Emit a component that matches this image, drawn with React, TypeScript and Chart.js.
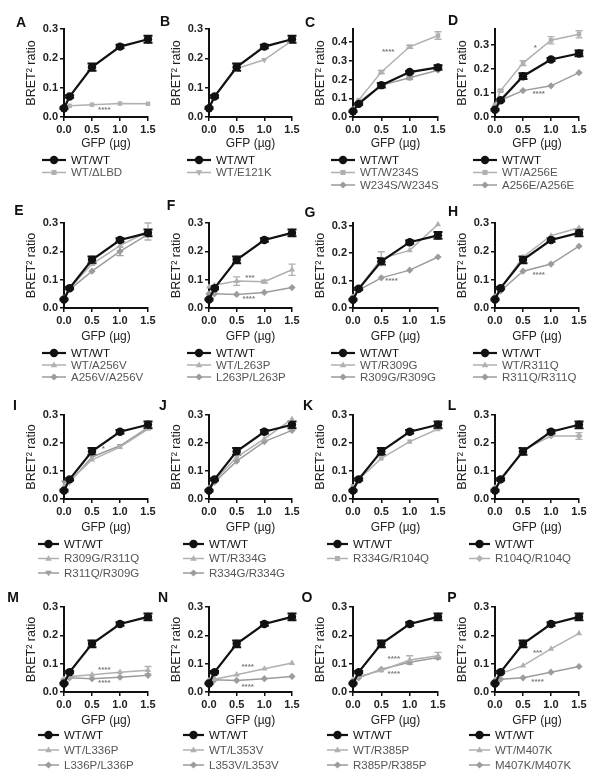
import React, { useEffect, useRef } from 'react';
import { Chart, registerables } from 'chart.js';
Chart.register(...registerables);

// ---------------- DATA ----------------
const doses = [0, 0.1, 0.5, 1.0, 1.5];
const xTickValues = [0, 0.5, 1.0, 1.5];
const yTicks03 = [0, 0.1, 0.2, 0.3];
const yTicks04 = [0, 0.1, 0.2, 0.3, 0.4];

const wtWT = [0.03, 0.07, 0.17, 0.24, 0.265];
const wtWTErr = [0.003, 0.004, 0.012, 0.006, 0.012];

const wtDLBD = [0.035, 0.038, 0.042, 0.046, 0.045];
const wtE121K = [0.035, 0.07, 0.165, 0.195, 0.26];
const wtW234S = [0.04, 0.09, 0.24, 0.375, 0.435];
const wtW234SErr = [0, 0, 0.008, 0.008, 0.02];
const w234sW234S = [0.04, 0.08, 0.17, 0.21, 0.25];
const w234sW234SErr = [0, 0, 0, 0.01, 0];
const wtA256E = [0.05, 0.11, 0.225, 0.32, 0.345];
const wtA256EErr = [0, 0.005, 0.01, 0.015, 0.015];
const a256eA256E = [0.045, 0.07, 0.11, 0.13, 0.185];
const wtA256V = [0.035, 0.07, 0.155, 0.22, 0.27];
const wtA256VErr = [0, 0, 0, 0, 0.03];
const a256vA256V = [0.035, 0.065, 0.13, 0.2, 0.26];
const a256vA256VErr = [0, 0, 0, 0.015, 0];
const wtL263P = [0.075, 0.08, 0.095, 0.093, 0.135];
const wtL263PErr = [0, 0, 0.015, 0.005, 0.02];
const l263pL263P = [0.05, 0.05, 0.048, 0.055, 0.072];
const wtR309G = [0.04, 0.07, 0.18, 0.21, 0.305];
const wtR309GErr = [0, 0, 0.025, 0, 0];
const r309gR309G = [0.04, 0.065, 0.11, 0.138, 0.186];
const wtR311Q = [0.035, 0.07, 0.18, 0.255, 0.283];
const r311qR311Q = [0.04, 0.06, 0.13, 0.155, 0.218];
const r309gR311Q = [0.045, 0.065, 0.14, 0.185, 0.25];
const r311qR309G = [0.06, 0.06, 0.15, 0.19, 0.255];
const wtR334G = [0.04, 0.065, 0.15, 0.215, 0.285];
const r334gR334G = [0.035, 0.06, 0.135, 0.205, 0.245];
const r334gR104Q = [0.045, 0.07, 0.145, 0.205, 0.25];
const r104qR104Q = [0.04, 0.065, 0.175, 0.225, 0.225];
const r104qR104QErr = [0, 0, 0, 0, 0.012];
const wtL336P = [0.045, 0.055, 0.061, 0.07, 0.077];
const wtL336PErr = [0, 0, 0, 0, 0.013];
const l336pL336P = [0.045, 0.05, 0.047, 0.052, 0.059];
const wtL353V = [0.04, 0.045, 0.061, 0.082, 0.102];
const l353vL353V = [0.04, 0.043, 0.041, 0.047, 0.055];
const wtR385P = [0.045, 0.055, 0.076, 0.113, 0.128];
const wtR385PErr = [0, 0, 0, 0.015, 0.012];
const r385pR385P = [0.04, 0.05, 0.08, 0.105, 0.122];
const wtM407K = [0.045, 0.065, 0.093, 0.152, 0.207];
const m407kM407K = [0.04, 0.045, 0.05, 0.07, 0.09];

// significance labels: [text, x, y] in data units
const starsA = [['****', 0.72, 0.026]];
const starsC = [['****', 0.62, 0.35]];
const starsD = [['*', 0.72, 0.29], ['****', 0.78, 0.097]];
const starsF = [['***', 0.74, 0.105], ['****', 0.72, 0.033]];
const starsG = [['****', 0.68, 0.098]];
const starsH = [['****', 0.78, 0.118]];
const starsI = [['*', 0.7, 0.18]];
const starsM = [['****', 0.72, 0.08], ['****', 0.72, 0.032]];
const starsN = [['****', 0.7, 0.088], ['****', 0.7, 0.018]];
const starsO = [['****', 0.72, 0.117], ['****', 0.72, 0.064]];
const starsP = [['***', 0.76, 0.14], ['****', 0.76, 0.035]];

// ---------------- STYLE / LAYOUT ----------------
const FONT = "'Liberation Sans', Arial, sans-serif";
const BLACK = '#111111';
const G1 = '#b0b0b0';
const G2 = '#9c9c9c';

const COLS = [
  { axis: 64, end: 148 },
  { axis: 209, end: 292 },
  { axis: 353, end: 438 },
  { axis: 495, end: 579 },
];
const ROWS = [
  { top: 29, y0: 117, xH: 34, legOff: 43, legSp: 12.5, l0: -22, l1: 2, tx: 7 },
  { top: 223, y0: 308, xH: 36, legOff: 45, legSp: 12, l0: -22, l1: 2, tx: 7 },
  { top: 415, y0: 499, xH: 36, legOff: 45, legSp: 14.5, l0: -26, l1: -5, tx: 0 },
  { top: 607, y0: 692, xH: 36, legOff: 43, legSp: 15, l0: -26, l1: -5, tx: 0 },
];

type Ser = { label: string; values: number[]; err?: number[]; mark: string; color: string };
type PanelCfg = {
  letter: string; lx: number; ly: number; col: number; row: number;
  yMax: number; yTicks: number[]; series: Ser[]; stars: any[];
};

const WT: Ser = { label: 'WT/WT', values: wtWT, err: wtWTErr, mark: 'circle', color: BLACK };

const PANELS: PanelCfg[] = [
  { letter: 'A', lx: 21, ly: 22, col: 0, row: 0, yMax: 0.3, yTicks: yTicks03, stars: starsA,
    series: [WT, { label: 'WT/\u0394LBD', values: wtDLBD, mark: 'rect', color: G1 }] },
  { letter: 'B', lx: 165, ly: 21, col: 1, row: 0, yMax: 0.3, yTicks: yTicks03, stars: [],
    series: [WT, { label: 'WT/E121K', values: wtE121K, mark: 'triDown', color: G1 }] },
  { letter: 'C', lx: 310, ly: 22, col: 2, row: 0, yMax: 0.47, yTicks: yTicks04, stars: starsC,
    series: [WT, { label: 'WT/W234S', values: wtW234S, err: wtW234SErr, mark: 'rect', color: G1 },
      { label: 'W234S/W234S', values: w234sW234S, err: w234sW234SErr, mark: 'dia', color: G2 }] },
  { letter: 'D', lx: 453, ly: 20, col: 3, row: 0, yMax: 0.367, yTicks: yTicks03, stars: starsD,
    series: [WT, { label: 'WT/A256E', values: wtA256E, err: wtA256EErr, mark: 'rect', color: G1 },
      { label: 'A256E/A256E', values: a256eA256E, mark: 'dia', color: G2 }] },
  { letter: 'E', lx: 19, ly: 210, col: 0, row: 1, yMax: 0.3, yTicks: yTicks03, stars: [],
    series: [WT, { label: 'WT/A256V', values: wtA256V, err: wtA256VErr, mark: 'tri', color: G1 },
      { label: 'A256V/A256V', values: a256vA256V, err: a256vA256VErr, mark: 'dia', color: G2 }] },
  { letter: 'F', lx: 171, ly: 205, col: 1, row: 1, yMax: 0.3, yTicks: yTicks03, stars: starsF,
    series: [WT, { label: 'WT/L263P', values: wtL263P, err: wtL263PErr, mark: 'tri', color: G1 },
      { label: 'L263P/L263P', values: l263pL263P, mark: 'dia', color: G2 }] },
  { letter: 'G', lx: 310, ly: 212, col: 2, row: 1, yMax: 0.31, yTicks: yTicks03, stars: starsG,
    series: [WT, { label: 'WT/R309G', values: wtR309G, err: wtR309GErr, mark: 'tri', color: G1 },
      { label: 'R309G/R309G', values: r309gR309G, mark: 'dia', color: G2 }] },
  { letter: 'H', lx: 453, ly: 211, col: 3, row: 1, yMax: 0.3, yTicks: yTicks03, stars: starsH,
    series: [WT, { label: 'WT/R311Q', values: wtR311Q, mark: 'tri', color: G1 },
      { label: 'R311Q/R311Q', values: r311qR311Q, mark: 'dia', color: G2 }] },
  { letter: 'I', lx: 15, ly: 405, col: 0, row: 2, yMax: 0.3, yTicks: yTicks03, stars: starsI,
    series: [WT, { label: 'R309G/R311Q', values: r309gR311Q, mark: 'tri', color: G1 },
      { label: 'R311Q/R309G', values: r311qR309G, mark: 'triDown', color: G2 }] },
  { letter: 'J', lx: 163, ly: 405, col: 1, row: 2, yMax: 0.3, yTicks: yTicks03, stars: [],
    series: [WT, { label: 'WT/R334G', values: wtR334G, mark: 'tri', color: G1 },
      { label: 'R334G/R334G', values: r334gR334G, mark: 'dia', color: G2 }] },
  { letter: 'K', lx: 308, ly: 405, col: 2, row: 2, yMax: 0.3, yTicks: yTicks03, stars: [],
    series: [WT, { label: 'R334G/R104Q', values: r334gR104Q, mark: 'rect', color: G1 }] },
  { letter: 'L', lx: 452, ly: 405, col: 3, row: 2, yMax: 0.3, yTicks: yTicks03, stars: [],
    series: [WT, { label: 'R104Q/R104Q', values: r104qR104Q, err: r104qR104QErr, mark: 'dia', color: G1 }] },
  { letter: 'M', lx: 13, ly: 597, col: 0, row: 3, yMax: 0.3, yTicks: yTicks03, stars: starsM,
    series: [WT, { label: 'WT/L336P', values: wtL336P, err: wtL336PErr, mark: 'tri', color: G1 },
      { label: 'L336P/L336P', values: l336pL336P, mark: 'dia', color: G2 }] },
  { letter: 'N', lx: 163, ly: 597, col: 1, row: 3, yMax: 0.3, yTicks: yTicks03, stars: starsN,
    series: [WT, { label: 'WT/L353V', values: wtL353V, mark: 'tri', color: G1 },
      { label: 'L353V/L353V', values: l353vL353V, mark: 'dia', color: G2 }] },
  { letter: 'O', lx: 307, ly: 597, col: 2, row: 3, yMax: 0.3, yTicks: yTicks03, stars: starsO,
    series: [WT, { label: 'WT/R385P', values: wtR385P, err: wtR385PErr, mark: 'tri', color: G1 },
      { label: 'R385P/R385P', values: r385pR385P, mark: 'dia', color: G2 }] },
  { letter: 'P', lx: 452, ly: 597, col: 3, row: 3, yMax: 0.3, yTicks: yTicks03, stars: starsP,
    series: [WT, { label: 'WT/M407K', values: wtM407K, mark: 'tri', color: G1 },
      { label: 'M407K/M407K', values: m407kM407K, mark: 'dia', color: G2 }] },
];

function chartStyle(mark: string) {
  if (mark === 'circle') return { pointStyle: 'circle', rot: 0, r: 4.2 };
  if (mark === 'rect') return { pointStyle: 'rect', rot: 0, r: 3.2 };
  if (mark === 'tri') return { pointStyle: 'triangle', rot: 0, r: 3.6 };
  if (mark === 'triDown') return { pointStyle: 'triangle', rot: 180, r: 3.6 };
  return { pointStyle: 'rectRot', rot: 0, r: 3.6 };
}

function drawMarker(ctx: CanvasRenderingContext2D, mark: string, x: number, y: number, r: number) {
  ctx.beginPath();
  if (mark === 'circle') {
    ctx.arc(x, y, r, 0, Math.PI * 2);
  } else if (mark === 'rect') {
    ctx.rect(x - r * 0.8, y - r * 0.8, r * 1.6, r * 1.6);
  } else if (mark === 'tri') {
    ctx.moveTo(x, y - r); ctx.lineTo(x + r * 0.9, y + r * 0.6); ctx.lineTo(x - r * 0.9, y + r * 0.6);
    ctx.closePath();
  } else if (mark === 'triDown') {
    ctx.moveTo(x, y + r); ctx.lineTo(x + r * 0.9, y - r * 0.6); ctx.lineTo(x - r * 0.9, y - r * 0.6);
    ctx.closePath();
  } else {
    ctx.moveTo(x, y - r); ctx.lineTo(x + r, y); ctx.lineTo(x, y + r); ctx.lineTo(x - r, y);
    ctx.closePath();
  }
  ctx.fill();
}

function Panel({ p }: { p: PanelCfg }) {
  const ref = useRef<HTMLCanvasElement>(null);
  const col = COLS[p.col];
  const row = ROWS[p.row];
  const left = col.axis - 48;
  const ctop = row.top - 10;
  const W = col.end - col.axis + 48 + 14;
  const plotH = row.y0 - ctop;
  const H = plotH + 92;

  useEffect(() => {
    const canvas = ref.current;
    if (!canvas) return;

    const extras = {
      id: 'extras' + p.letter,
      beforeDatasetsDraw(chart: any) {
        const ctx = chart.ctx;
        const ys = chart.scales.y;
        p.series.forEach((s, i) => {
          if (!s.err) return;
          const meta = chart.getDatasetMeta(i);
          ctx.save();
          ctx.strokeStyle = s.color;
          ctx.lineWidth = i === 0 ? 2 : 1.4;
          const cw = i === 0 ? 4.5 : 3.5;
          s.err.forEach((e, j) => {
            if (!e) return;
            const x = meta.data[j].x;
            const yt = ys.getPixelForValue(s.values[j] + e);
            const yb = ys.getPixelForValue(s.values[j] - e);
            ctx.beginPath();
            ctx.moveTo(x, yt); ctx.lineTo(x, yb);
            ctx.moveTo(x - cw, yt); ctx.lineTo(x + cw, yt);
            ctx.moveTo(x - cw, yb); ctx.lineTo(x + cw, yb);
            ctx.stroke();
          });
          ctx.restore();
        });
      },
      afterDraw(chart: any) {
        const ctx = chart.ctx;
        const xs = chart.scales.x;
        const ys = chart.scales.y;
        const ca = chart.chartArea;
        ctx.save();
        // stars
        ctx.fillStyle = '#7a7a7a';
        ctx.font = `bold 8px ${FONT}`;
        ctx.textAlign = 'center';
        ctx.textBaseline = 'middle';
        p.stars.forEach((st: any) => {
          ctx.fillText(st[0], xs.getPixelForValue(st[1]), ys.getPixelForValue(st[2]));
        });
        // legend
        p.series.forEach((s, i) => {
          const y = ca.bottom + row.legOff + i * row.legSp;
          const x0 = ca.left + row.l0;
          const x1 = ca.left + row.l1;
          ctx.strokeStyle = s.color;
          ctx.fillStyle = s.color;
          ctx.lineWidth = i === 0 ? 2.2 : 1.5;
          ctx.beginPath();
          ctx.moveTo(x0, y); ctx.lineTo(x1, y);
          ctx.stroke();
          const cs = chartStyle(s.mark);
          drawMarker(ctx, s.mark, (x0 + x1) / 2, y, cs.r);
          ctx.fillStyle = i === 0 ? '#111' : '#555';
          ctx.font = `11.5px ${FONT}`;
          ctx.textAlign = 'left';
          ctx.textBaseline = 'middle';
          ctx.fillText(s.label, ca.left + row.tx, y + 0.5);
        });
        ctx.restore();
      },
    };

    const tickFont = { family: FONT, size: 11, weight: 'bold' as const };
    const grid = { drawOnChartArea: false, drawTicks: true, tickLength: 4, color: '#111', lineWidth: 1.5 };
    const border = { display: true, color: '#111', width: 2 };

    const chart = new Chart(canvas, {
      type: 'line',
      data: {
        datasets: p.series.map((s, i) => {
          const cs = chartStyle(s.mark);
          return {
            label: s.label,
            data: doses.map((d, j) => ({ x: d, y: s.values[j] })),
            borderColor: s.color,
            backgroundColor: s.color,
            borderWidth: i === 0 ? 2.2 : 1.5,
            pointStyle: cs.pointStyle as any,
            pointRotation: cs.rot,
            pointRadius: cs.r,
            pointBorderWidth: 0,
            pointBackgroundColor: s.color,
            tension: 0,
            clip: false as any,
          };
        }),
      },
      options: {
        animation: false,
        responsive: false,
        devicePixelRatio: 1,
        layout: { padding: { left: 8, right: 14, top: 10, bottom: H - plotH - row.xH } },
        plugins: { legend: { display: false }, tooltip: { enabled: false } },
        scales: {
          x: {
            type: 'linear',
            min: 0,
            max: 1.5,
            afterBuildTicks: (s: any) => { s.ticks = xTickValues.map((v) => ({ value: v })); },
            afterFit: (s: any) => { s.height = row.xH; },
            ticks: { callback: (v: any) => Number(v).toFixed(1), font: tickFont, color: '#222', padding: 2, maxRotation: 0, autoSkip: false },
            grid,
            border,
            title: { display: true, text: 'GFP (\u00b5g)', font: { family: FONT, size: 12 }, color: '#222', padding: 0 },
          },
          y: {
            type: 'linear',
            min: 0,
            max: p.yMax,
            afterBuildTicks: (s: any) => { s.ticks = p.yTicks.map((v) => ({ value: v })); },
            afterFit: (s: any) => { s.width = 40; },
            ticks: { callback: (v: any) => Number(v).toFixed(1), font: tickFont, color: '#222', padding: 2, autoSkip: false },
            grid,
            border,
            title: { display: true, text: 'BRET\u00b2 ratio', font: { family: FONT, size: 12.5 }, color: '#222', padding: 0 },
          },
        },
      },
      plugins: [extras],
    } as any);
    return () => chart.destroy();
  }, []);

  return (
    <canvas
      ref={ref}
      width={W}
      height={H}
      style={{ position: 'absolute', left, top: ctop, width: W, height: H }}
    />
  );
}

export default function App() {
  return (
    <div style={{ position: 'absolute', left: 0, top: 0, width: 604, height: 784, background: '#fff', overflow: 'hidden' }}>
      {PANELS.map((p) => (
        <Panel key={p.letter} p={p} />
      ))}
      {PANELS.map((p) => (
        <div
          key={'L' + p.letter}
          style={{
            position: 'absolute', left: p.lx, top: p.ly, transform: 'translate(-50%, -50%)',
            font: `bold 14px ${FONT}`, color: '#111', lineHeight: '14px',
          }}
        >
          {p.letter}
        </div>
      ))}
    </div>
  );
}
